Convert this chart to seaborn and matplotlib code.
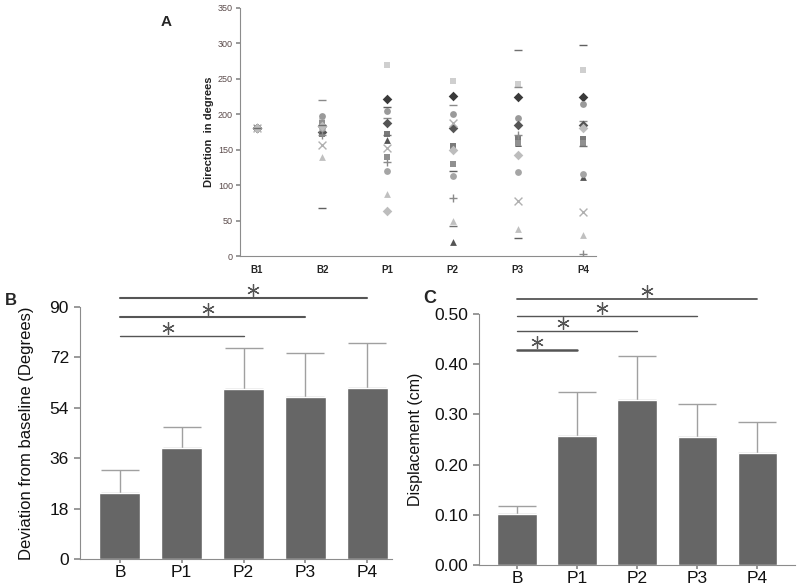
import numpy as np
import pandas as pd
import matplotlib
matplotlib.use("Agg")
import matplotlib.pyplot as plt
import matplotlib.transforms as mtransforms
import seaborn as sns

sns.set_theme(style="white")
plt.rcParams['font.family'] = ['Liberation Sans', 'DejaVu Sans']

# ---------------- Panel A data ----------------
timepoints = ["B1", "B2", "P1", "P2", "P3", "P4"]
s01 = [180, 190, 270, 247, 243, 262]
s02 = [180, 183, 222, 225, 224, 224]
s03 = [180, 220, 195, 213, 238, 190]
s04 = [180, 197, 205, 200, 195, 215]
s05 = [180, 175, 188, 180, 185, 185]
s06 = [180, 172, 172, 155, 165, 165]
s07 = [180, 178, 163, 20, 160, 112]
s08 = [180, 157, 152, 188, 77, 62]
s09 = [180, 170, 132, 82, 170, 3]
s10 = [180, 140, 88, 50, 38, 30]
s11 = [180, 180, 120, 113, 118, 115]
s12 = [180, 68, 210, 120, 25, 297]
s13 = [180, 188, 140, 130, 160, 160]
s14 = [180, 183, 63, 150, 143, 180]
s15 = [180, 185, 170, 42, 290, 155]
subjects = [s01, s02, s03, s04, s05, s06, s07, s08, s09, s10, s11, s12, s13, s14, s15]
subj_markers = ['s', 'D', '_', 'o', 'D', 's', '^', 'x', '+', '^', 'o', '_', 's', 'D', '_']
subj_colors = ['#cfcfcf', '#3a3a3a', '#8a8a8a', '#9a9a9a', '#555555', '#7a7a7a', '#555555',
               '#b0b0b0', '#8a8a8a', '#c0c0c0', '#a5a5a5', '#606060', '#909090', '#bdbdbd', '#707070']

# ---------------- Panel B data ----------------
groups = ["B", "P1", "P2", "P3", "P4"]
deviation = [23.7, 39.8, 60.8, 58.0, 61.1]
deviation_err = [8.1, 7.5, 14.4, 15.5, 16.2]
sig_b_targets = ["P2", "P3", "P4"]
sig_b_levels = [79.6, 86.4, 93.2]
sig_b_star_x = [0.77, 1.42, 2.15]

# ---------------- Panel C data ----------------
displacement = [0.102, 0.257, 0.329, 0.256, 0.224]
displacement_err = [0.016, 0.087, 0.088, 0.065, 0.061]
sig_c_targets = ["P1", "P2", "P3", "P4"]
sig_c_levels = [0.4275, 0.4655, 0.4955, 0.529]
sig_c_star_x = [0.33, 0.77, 1.42, 2.17]

fig = plt.figure(figsize=(8, 5.88), dpi=100)

spine_col = '#8c8c8c'
bar_col = '#666666'

# ---------------- Panel A ----------------
axA = fig.add_axes([0.30, 0.5646, 0.445, 0.422])
for vals, mk, col in zip(subjects, subj_markers, subj_colors):
    df = pd.DataFrame({"time": timepoints, "deg": vals})
    if mk in ['x', '+', '_']:
        sns.scatterplot(data=df, x="time", y="deg", marker=mk, color=col, s=32,
                        linewidth=1.0, ax=axA, legend=False, zorder=3)
    else:
        sns.scatterplot(data=df, x="time", y="deg", marker=mk, color=col, s=24,
                        linewidth=0, ax=axA, legend=False, zorder=3)
axA.set_xlim(-0.26, 5.2)
axA.set_ylim(0, 350)
axA.set_yticks(np.arange(0, 351, 50))
axA.set_xlabel("")
axA.set_ylabel("Direction  in degrees", fontsize=8, fontweight='bold', color='#222222', labelpad=3)
for sp in ['top', 'right']:
    axA.spines[sp].set_visible(False)
for sp in ['left', 'bottom']:
    axA.spines[sp].set_color(spine_col)
    axA.spines[sp].set_linewidth(0.8)
axA.tick_params(axis='y', labelsize=6.5, labelcolor='#5a4a4a', left=True, length=3, color=spine_col, pad=2)
axA.tick_params(axis='x', labelsize=7, bottom=False, pad=0.5)
for lbl in axA.get_xticklabels():
    lbl.set_fontweight('bold')
fig.text(0.208, 0.962, "A", fontsize=11, fontweight='bold', ha='center', va='center')


def bar_panel(ax, vals, errs, targets, levels, star_x, ylim, yticks, yfmt, ylabel, ylsize, ylpad, thick):
    df = pd.DataFrame({"group": groups, "val": vals})
    sns.barplot(data=df, x="group", y="val", color=bar_col, saturation=1, width=0.66,
                errorbar=None, ax=ax, zorder=2)
    ax.errorbar(range(len(groups)), vals, yerr=[np.zeros(len(errs)), errs], fmt='none',
                ecolor='#a0a0a0', elinewidth=1.0, capsize=14, capthick=1.0, zorder=1)
    ax.set_ylim(*ylim)
    ax.set_yticks(yticks)
    ax.set_yticklabels([yfmt.format(t) for t in yticks])
    ax.set_xlabel("")
    ax.set_ylabel(ylabel, fontsize=ylsize, color='#111111', labelpad=ylpad)
    for sp in ['top', 'right']:
        ax.spines[sp].set_visible(False)
    for sp in ['left', 'bottom']:
        ax.spines[sp].set_color(spine_col)
        ax.spines[sp].set_linewidth(0.8)
    ax.tick_params(axis='both', labelsize=12.5, colors='#111111')
    ax.tick_params(axis='y', left=True, length=4, color=spine_col, pad=4)
    ax.tick_params(axis='x', bottom=True, length=3, color=spine_col, pad=1.5)
    star_tr = mtransforms.offset_copy(ax.transData, fig=ax.figure, y=8, units='dots')
    for tgt, lev, sx, lw in zip(targets, levels, star_x, thick):
        x1 = groups.index(tgt)
        ax.plot([0, x1], [lev, lev], color='#555555', lw=lw, clip_on=False)
        ax.plot([sx], [lev], marker=(6, 2, 0), markersize=9, markeredgewidth=0.9,
                color='#555555', transform=star_tr, clip_on=False)


axB = fig.add_axes([0.10, 0.0493, 0.39, 0.4287])
bar_panel(axB, deviation, deviation_err, sig_b_targets, sig_b_levels, sig_b_star_x, (0, 90),
          [0, 18, 36, 54, 72, 90], "{:.0f}", "Deviation from baseline (Degrees)", 12, 11,
          [1.0, 1.5, 1.5])
axB.set_xlim(-0.645, 4.4)
fig.text(0.013, 0.489, "B", fontsize=12, fontweight='bold', ha='center', va='center')

axC = fig.add_axes([0.599, 0.039, 0.395, 0.427])
bar_panel(axC, displacement, displacement_err, sig_c_targets, sig_c_levels, sig_c_star_x, (0, 0.5),
          [0, 0.1, 0.2, 0.3, 0.4, 0.5], "{:.2f}", "Displacement (cm)", 11.5, 8,
          [1.8, 1.0, 1.0, 1.3])
axC.set_xlim(-0.633, 4.63)
fig.text(0.537, 0.492, "C", fontsize=13, fontweight='bold', ha='center', va='center')

fig.savefig("out.png", dpi=100)
